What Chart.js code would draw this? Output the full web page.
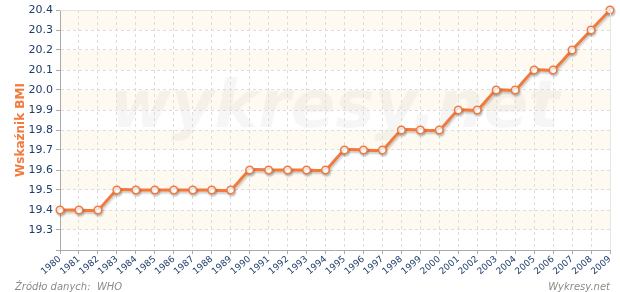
<!DOCTYPE html>
<html>
<head>
<meta charset="utf-8">
<script src="https://cdn.jsdelivr.net/npm/chart.js@4/dist/chart.umd.min.js"></script>
<style>
  html, body { margin: 0; padding: 0; background: #fff; }
  #wrap { width: 620px; height: 292px; position: relative; }
</style>
</head>
<body>
<div id="wrap"><canvas id="bmiChart" width="620" height="292"></canvas></div>
<script>
// dane z wykresu
const years = ['1980','1981','1982','1983','1984','1985','1986','1987','1988','1989',
  '1990','1991','1992','1993','1994','1995','1996','1997','1998','1999',
  '2000','2001','2002','2003','2004','2005','2006','2007','2008','2009'];
const bmiValues = [19.4, 19.4, 19.4, 19.5, 19.5, 19.5, 19.5, 19.5, 19.5, 19.5,
  19.6, 19.6, 19.6, 19.6, 19.6, 19.7, 19.7, 19.7, 19.8, 19.8,
  19.8, 19.9, 19.9, 20.0, 20.0, 20.1, 20.1, 20.2, 20.3, 20.4];
const yMin = 19.2, yMax = 20.4, yStep = 0.1;
const axisTitle = 'Wskaźnik BMI';
const sourceText = 'Źródło danych:  WHO';
const brandText = 'Wykresy.net';
const watermarkText = 'wykresy.net';

const orange = '#f27a3d';
const navy = '#1f3d6b';

// pasy w tle, znak wodny, podpisy i cień linii
const bgPlugin = {
  id: 'bg',
  beforeDraw(chart) {
    const { ctx, chartArea: a, scales: { y } } = chart;
    ctx.save();
    ctx.fillStyle = '#fefaf1';
    for (let i = 0; i < Math.round((yMax - yMin) / yStep); i++) {
      if (i % 2 === 1) {
        const lo = yMin + i * yStep, hi = lo + yStep;
        const y1 = y.getPixelForValue(hi), y2 = y.getPixelForValue(lo);
        ctx.fillRect(a.left, y1, a.right - a.left, y2 - y1);
      }
    }
    ctx.font = 'italic bold 66px "DejaVu Sans"';
    ctx.fillStyle = 'rgba(0,0,0,0.035)';
    ctx.textAlign = 'center';
    ctx.textBaseline = 'alphabetic';
    ctx.fillText(watermarkText, 335, 127);
    ctx.restore();
  },
  afterDraw(chart) {
    const { ctx, chartArea: a } = chart;
    ctx.save();
    ctx.font = 'italic 10px "DejaVu Sans"';
    ctx.fillStyle = '#8a8a8a';
    ctx.textBaseline = 'alphabetic';
    ctx.textAlign = 'left';
    ctx.fillText(sourceText, 15, 290);
    ctx.textAlign = 'right';
    ctx.fillText(brandText, a.right, 290);
    ctx.strokeStyle = '#e4e4e4';
    ctx.lineWidth = 1;
    ctx.beginPath();
    ctx.moveTo(a.left, a.top + 0.5);
    ctx.lineTo(a.right + 0.5, a.top + 0.5);
    ctx.lineTo(a.right + 0.5, a.bottom);
    ctx.stroke();
    ctx.restore();
  },
  beforeDatasetDraw(chart) {
    const ctx = chart.ctx;
    ctx.save();
    ctx.shadowColor = 'rgba(0,0,0,0.2)';
    ctx.shadowOffsetX = 1;
    ctx.shadowOffsetY = 2;
    ctx.shadowBlur = 2;
  },
  afterDatasetDraw(chart) {
    chart.ctx.restore();
  }
};

new Chart(document.getElementById('bmiChart'), {
  type: 'line',
  data: {
    labels: years,
    datasets: [{
      data: bmiValues,
      borderColor: orange,
      borderWidth: 3,
      tension: 0.15,
      pointRadius: 3.8,
      pointBorderWidth: 1.5,
      pointBackgroundColor: '#fff',
      pointBorderColor: orange,
      clip: false
    }]
  },
  options: {
    responsive: false,
    animation: false,
    layout: { padding: { left: 14, top: 10, right: 10, bottom: 0 } },
    plugins: { legend: { display: false }, tooltip: { enabled: false } },
    scales: {
      x: {
        offset: false,
        grid: { color: '#dddddd', tickLength: 4, tickColor: '#aaa' },
        border: { color: '#aaaaaa', dash: [3, 3] },
        ticks: { color: navy, font: { size: 9, family: '"DejaVu Sans"' }, maxRotation: 40, minRotation: 40, autoSkip: false, padding: 0 },
        afterFit(s) { s.height = 42; }
      },
      y: {
        min: yMin, max: yMax,
        grid: { color: '#dddddd', tickLength: 4, tickColor: '#aaa' },
        border: { color: '#aaaaaa', dash: [3, 3] },
        ticks: {
          stepSize: yStep, color: navy, padding: 3,
          font: { size: 11, family: '"DejaVu Sans"' },
          callback: v => (Math.abs(v - yMin) < 1e-6 ? '' : Number(v).toFixed(1))
        },
        title: { display: true, text: axisTitle, color: orange, font: { size: 12, weight: 'bold', family: '"DejaVu Sans"' }, padding: 0 },
        afterFit(s) { s.width = 46; }
      }
    }
  },
  plugins: [bgPlugin]
});
</script>
</body>
</html>
